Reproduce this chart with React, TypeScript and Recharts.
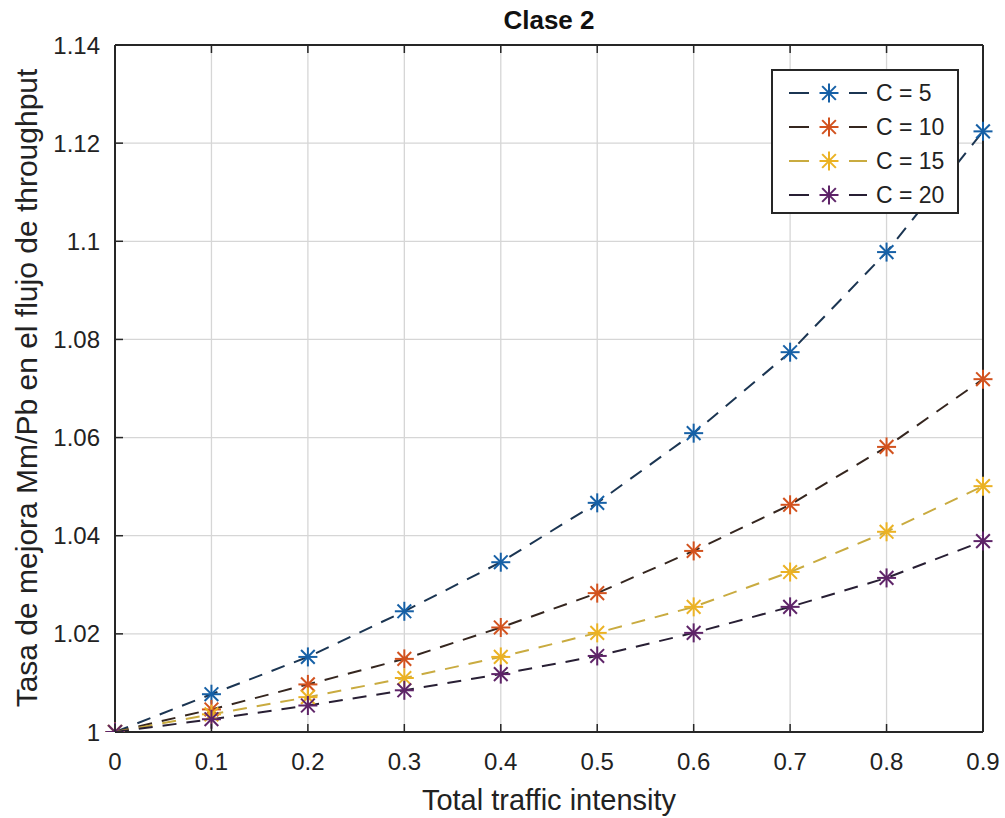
import React from "react";
import {
  LineChart,
  Line,
  XAxis,
  YAxis,
  CartesianGrid,
} from "recharts";

const xValues = [0, 0.1, 0.2, 0.3, 0.4, 0.5, 0.6, 0.7, 0.8, 0.9];
const c5 = [1, 1.0077, 1.0153, 1.0246, 1.0346, 1.0467, 1.0609, 1.0774, 1.0978, 1.1224];
const c10 = [1, 1.0046, 1.0097, 1.0149, 1.0213, 1.0283, 1.0369, 1.0463, 1.0581, 1.0719];
const c15 = [1, 1.0036, 1.0071, 1.011, 1.0153, 1.0202, 1.0255, 1.0326, 1.0408, 1.0501];
const c20 = [1, 1.0026, 1.0054, 1.0085, 1.0118, 1.0155, 1.0202, 1.0255, 1.0314, 1.0389];

const xTicks = [0, 0.1, 0.2, 0.3, 0.4, 0.5, 0.6, 0.7, 0.8, 0.9];
const yTicks = [1, 1.02, 1.04, 1.06, 1.08, 1.1, 1.12, 1.14];

const SERIES = [
  { key: "c5", name: "C = 5", line: "#1b3552", marker: "#1660a6" },
  { key: "c10", name: "C = 10", line: "#35261f", marker: "#d2521e" },
  { key: "c15", name: "C = 15", line: "#c9ab40", marker: "#ebb224" },
  { key: "c20", name: "C = 20", line: "#281f34", marker: "#5e2468" },
];

const data = xValues.map((x, i) => ({
  x,
  c5: c5[i],
  c10: c10[i],
  c15: c15[i],
  c20: c20[i],
}));

const FONT = "'Liberation Sans', Arial, sans-serif";
const AXIS = "#262626";
const GRID = "#d6d6d6";
const TICK_LEN = 8;

function Asterisk({ cx, cy, color, r = 9.5 }: { cx: number; cy: number; color: string; r?: number }) {
  const d = r * 0.72;
  return (
    <g stroke={color} strokeWidth={2} fill="none">
      <line x1={cx} y1={cy - r} x2={cx} y2={cy + r} />
      <line x1={cx - r} y1={cy} x2={cx + r} y2={cy} />
      <line x1={cx - d} y1={cy - d} x2={cx + d} y2={cy + d} />
      <line x1={cx - d} y1={cy + d} x2={cx + d} y2={cy - d} />
    </g>
  );
}

// bottom axis: tickSize 0, tickMargin 21 -> axis line sits 21px above label y
const BottomTick = (p: any) => {
  const axisY = p.y - 21;
  return (
    <g>
      <line x1={p.x} x2={p.x} y1={axisY} y2={axisY - TICK_LEN} stroke={AXIS} strokeWidth={1.5} />
      <text x={p.x} y={p.y} dy="0.71em" textAnchor="middle" fontSize={24} fill="#222" fontFamily={FONT}>
        {p.payload.value}
      </text>
    </g>
  );
};

// left axis: tickSize 0, tickMargin 15
const LeftTick = (p: any) => {
  const axisX = p.x + 15;
  return (
    <g>
      <line x1={axisX} x2={axisX + TICK_LEN} y1={p.y} y2={p.y} stroke={AXIS} strokeWidth={1.5} />
      <text x={p.x} y={p.y} dy="0.355em" textAnchor="end" fontSize={24} fill="#222" fontFamily={FONT}>
        {p.payload.value}
      </text>
    </g>
  );
};

const TopTick = (p: any) => (
  <line x1={p.x} x2={p.x} y1={p.y} y2={p.y + TICK_LEN} stroke={AXIS} strokeWidth={1.5} />
);

const RightTick = (p: any) => (
  <line x1={p.x} x2={p.x - TICK_LEN} y1={p.y} y2={p.y} stroke={AXIS} strokeWidth={1.5} />
);

function LegendBox() {
  return (
    <svg
      width={188}
      height={145}
      style={{ position: "absolute", left: 771, top: 69, fontFamily: FONT }}
    >
      <rect x={1} y={1} width={186} height={143} fill="#fff" stroke={AXIS} strokeWidth={2} />
      {SERIES.map((s, i) => {
        const y = 24 + i * 34;
        return (
          <g key={s.key}>
            <line x1={18} x2={38} y1={y} y2={y} stroke={s.line} strokeWidth={2} />
            <line x1={78} x2={96} y1={y} y2={y} stroke={s.line} strokeWidth={2} />
            <Asterisk cx={58} cy={y} color={s.marker} />
            <text x={105} y={y + 8} fontSize={23} fill="#222">
              {s.name}
            </text>
          </g>
        );
      })}
    </svg>
  );
}

export default function App() {
  return (
    <div style={{ position: "absolute", left: 0, top: 0, width: 1005, height: 818, background: "#fff" }}>
      <LineChart
        width={1005}
        height={818}
        data={data}
        margin={{ top: 44, right: 21, left: 0, bottom: 0 }}
        style={{ fontFamily: FONT }}
      >
        <CartesianGrid stroke={GRID} strokeWidth={1.3} horizontalValues={yTicks} verticalValues={xTicks} />
        <XAxis
          dataKey="x"
          type="number"
          domain={[0, 0.9]}
          ticks={xTicks}
          height={86}
          interval={0}
          tickSize={0}
          tickMargin={21}
          axisLine={{ stroke: AXIS, strokeWidth: 2 }}
          tickLine={false}
          tick={BottomTick}
          label={{
            content: () => (
              <text x={549} y={810} textAnchor="middle" fontSize={29} fill="#222" fontFamily={FONT}>
                Total traffic intensity
              </text>
            ),
          }}
        />
        <XAxis
          xAxisId="top"
          dataKey="x"
          type="number"
          orientation="top"
          domain={[0, 0.9]}
          ticks={xTicks}
          height={1}
          interval={0}
          tickSize={0}
          tickMargin={0}
          axisLine={{ stroke: AXIS, strokeWidth: 2 }}
          tickLine={false}
          tick={TopTick}
          label={{
            content: () => (
              <text x={549} y={29} textAnchor="middle" fontSize={26} fontWeight="bold" fill="#111" fontFamily={FONT}>
                Clase 2
              </text>
            ),
          }}
        />
        <YAxis
          type="number"
          domain={[1, 1.14]}
          ticks={yTicks}
          width={115}
          interval={0}
          tickSize={0}
          tickMargin={15}
          allowDataOverflow
          axisLine={{ stroke: AXIS, strokeWidth: 2 }}
          tickLine={false}
          tick={LeftTick}
          label={{
            content: () => (
              <text
                x={37}
                y={388}
                transform="rotate(-90, 37, 388)"
                textAnchor="middle"
                fontSize={30}
                fill="#222"
                fontFamily={FONT}
              >
                Tasa de mejora Mm/Pb en el flujo de throughput
              </text>
            ),
          }}
        />
        <YAxis
          yAxisId="right"
          orientation="right"
          type="number"
          domain={[1, 1.14]}
          ticks={yTicks}
          width={1}
          interval={0}
          tickSize={0}
          tickMargin={0}
          axisLine={{ stroke: AXIS, strokeWidth: 2 }}
          tickLine={false}
          tick={RightTick}
        />
        {SERIES.map((s) => (
          <Line
            key={s.key}
            type="linear"
            dataKey={s.key}
            name={s.name}
            stroke={s.line}
            strokeWidth={2}
            strokeDasharray="14 10"
            isAnimationActive={false}
            dot={(p: any) => (
              <Asterisk key={`${s.key}-${p.index}`} cx={p.cx} cy={p.cy} color={s.marker} />
            )}
            activeDot={false}
          />
        ))}
      </LineChart>
      <LegendBox />
    </div>
  );
}
